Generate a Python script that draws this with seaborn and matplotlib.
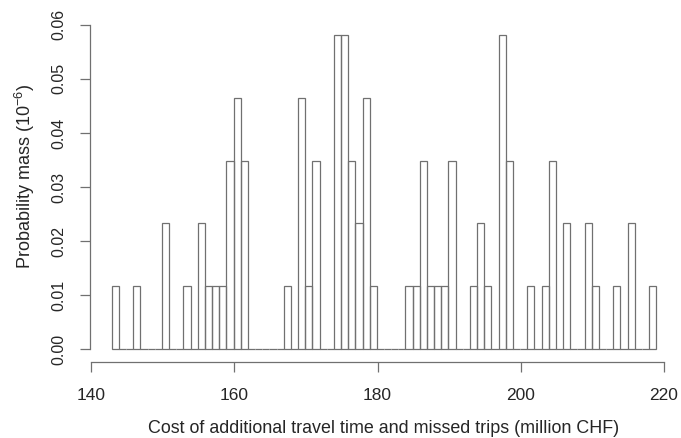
import numpy as np
import pandas as pd
import matplotlib
matplotlib.use("Agg")
import matplotlib.pyplot as plt
import seaborn as sns

# ====================== DATA ======================
# left edge (integer part) of each occupied 1-unit bin, and number of draws in it
bin_starts = [143, 146, 150, 153, 155, 156, 157, 158, 159, 160, 161,
              167, 169, 170, 171, 174, 175, 176, 177, 178, 179,
              184, 185, 186, 187, 188, 189, 190, 193, 194, 195,
              197, 198, 201, 203, 204, 206, 209, 210, 213, 215, 218]
counts     = [1, 1, 2, 1, 2, 1, 1, 1, 3, 4, 3,
              1, 4, 1, 3, 5, 5, 3, 2, 4, 1,
              1, 1, 3, 1, 1, 1, 3, 1, 2, 1,
              5, 3, 1, 1, 3, 2, 2, 1, 1, 2, 1]

x_ticks = [140, 160, 180, 200, 220]
y_ticks = [0.00, 0.01, 0.02, 0.03, 0.04, 0.05, 0.06]

X_LABEL = "Cost of additional travel time and missed trips (million CHF)"
Y_LABEL = "Probability mass (10$^{-6}$)"

# ====================== STYLE ======================
sns.set_theme(style="ticks")
plt.rcParams['font.family'] = ['Liberation Sans', 'DejaVu Sans']
plt.rcParams['mathtext.fontset'] = 'custom'
plt.rcParams['mathtext.rm'] = 'Liberation Sans'

LINE_COL = "#707070"
TEXT_COL = "#262626"

# ====================== PLOT ======================
fig = plt.figure(figsize=(6.81, 4.38), dpi=100)
ax = fig.add_axes([90 / 681, (438 - 362) / 438, (678 - 90) / 681, (362 - 22) / 438])

# one row per draw, placed inside its bin
df = pd.DataFrame({"cost": np.repeat(np.array(bin_starts, dtype=float) + 0.4, counts)})
edges = np.arange(bin_starts[0] - 0.1, bin_starts[-1] + 1.0, 1.0)

sns.histplot(data=df, x="cost", bins=list(edges), stat="probability",
             fill=False, color=LINE_COL, linewidth=0.9, ax=ax)

ax.set_xlim(139.85, 221.95)
ax.set_ylim(-0.00235, 0.0605)
ax.set_xticks(x_ticks)
ax.set_yticks(y_ticks)
ax.set_yticklabels([f"{v:.2f}" for v in y_ticks])

for side in ["top", "right"]:
    ax.spines[side].set_visible(False)
ax.spines["left"].set_bounds(0, 0.06)
ax.spines["bottom"].set_bounds(140, 220)
for side in ["left", "bottom"]:
    ax.spines[side].set_color(LINE_COL)
    ax.spines[side].set_linewidth(0.9)

ax.tick_params(axis="both", length=7, width=0.9, color=LINE_COL, labelcolor=TEXT_COL)
ax.tick_params(axis="x", pad=12, labelsize=12.5)
ax.tick_params(axis="y", pad=10, labelsize=11.5, labelrotation=90)
for lbl in ax.get_yticklabels():
    lbl.set_va("center")

ax.set_xlabel(X_LABEL, fontsize=12.9, color=TEXT_COL, labelpad=12)
ax.set_ylabel(Y_LABEL, fontsize=13, color=TEXT_COL)
ax.yaxis.set_label_coords(-0.09, 0.545)

fig.savefig("out.png", dpi=100)
